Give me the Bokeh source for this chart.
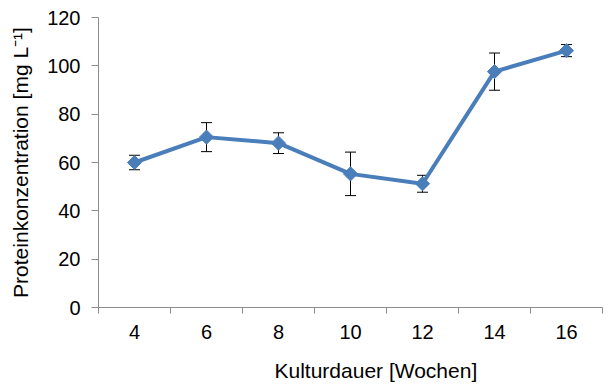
import numpy as np
from bokeh.plotting import figure
from bokeh.models import ColumnDataSource, FixedTicker, Whisker, TeeHead, Title, Range1d
from bokeh.embed import file_html
from bokeh.resources import INLINE

# Data
weeks = [4, 6, 8, 10, 12, 14, 16]
protein = [60.0, 70.5, 68.0, 55.3, 51.2, 97.6, 106.3]
errors = [3.0, 6.0, 4.3, 9.0, 3.5, 7.7, 2.5]
y_ticks = [0, 20, 40, 60, 80, 100, 120]

x_label = "Kulturdauer [Wochen]"
y_label = "Proteinkonzentration [mg L\u207b\u00b9]"

FONT = "Liberation Sans"
BLUE = "#4a7ebb"
AXIS_GREY = "#8c8c8c"

src = ColumnDataSource(dict(
    x=weeks, y=protein,
    upper=[v + e for v, e in zip(protein, errors)],
    lower=[v - e for v, e in zip(protein, errors)],
))

p = figure(frame_width=504, frame_height=290, output_backend="svg", toolbar_location=None,
           x_range=Range1d(weeks[0] - 1, weeks[-1] + 1),
           y_range=Range1d(y_ticks[0], y_ticks[-1]),
           min_border_left=98, min_border_right=10, min_border_top=17, min_border_bottom=60)
p.outline_line_color = None
p.grid.grid_line_color = None
p.background_fill_color = "white"
p.border_fill_color = "white"

# x axis: labels at category centres, ticks at boundaries
minor = [w - 1 for w in weeks] + [weeks[-1] + 1]
p.xaxis.ticker = FixedTicker(ticks=weeks, minor_ticks=minor)
p.xaxis.major_tick_line_color = None
p.xaxis.major_tick_out = 0
p.xaxis.major_tick_in = 0
p.xaxis.minor_tick_line_color = AXIS_GREY
p.xaxis.minor_tick_out = 6
p.xaxis.minor_tick_in = 0
p.xaxis.axis_line_color = AXIS_GREY
p.xaxis.major_label_standoff = 11

p.yaxis.ticker = FixedTicker(ticks=y_ticks)
p.yaxis.major_tick_line_color = AXIS_GREY
p.yaxis.major_tick_out = 7
p.yaxis.major_tick_in = 0
p.yaxis.minor_tick_line_color = None
p.yaxis.axis_line_color = AXIS_GREY
p.yaxis.major_label_standoff = 11
p.yaxis.axis_label = y_label
p.yaxis.axis_label_standoff = 12

for ax in (p.xaxis, p.yaxis):
    ax.major_label_text_font = FONT
    ax.major_label_text_font_size = "20px"
    ax.major_label_text_color = "black"
    ax.axis_label_text_font = FONT
    ax.axis_label_text_font_size = "21px"
    ax.axis_label_text_font_style = "normal"
    ax.axis_label_text_color = "black"

# x axis title, placed as in the reference (slightly right of centre)
t = Title(text=x_label, align="left", offset=176, text_font=FONT,
          text_font_size="21px", text_font_style="normal", text_color="black",
          standoff=31)
p.add_layout(t, "below")

p.line("x", "y", source=src, line_color=BLUE, line_width=4)
w = Whisker(source=src, base="x", upper="upper", lower="lower",
            line_color="black", line_width=1,
            upper_head=TeeHead(size=11, line_color="black", line_width=1),
            lower_head=TeeHead(size=11, line_color="black", line_width=1))
p.add_layout(w)
p.scatter("x", "y", source=src, marker="square", angle=np.pi / 4, size=10,
          fill_color=BLUE, line_color=BLUE)

open("out.html", "w").write(file_html(p, INLINE))
